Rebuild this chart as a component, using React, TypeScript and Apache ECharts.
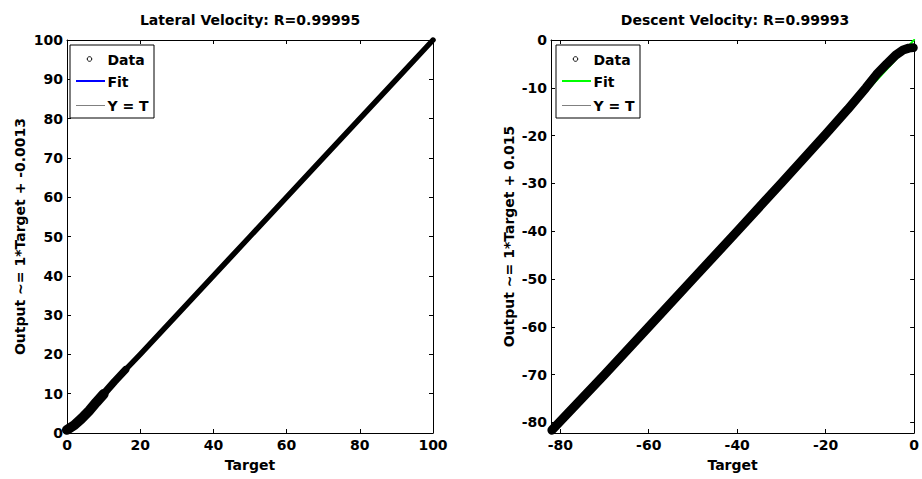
import React, { useEffect, useRef } from "react";
import * as echarts from "echarts";

// ---- Data ----
const lateralTitle = "Lateral Velocity: R=0.99995";
const descentTitle = "Descent Velocity: R=0.99993";
const lateralYName = "Output ~= 1*Target + -0.0013";
const descentYName = "Output ~= 1*Target + 0.015";
const xName = "Target";
const legendNames = ["Data", "Fit", "Y = T"];

// Lateral velocity data band (target, output)
const lateralTarget = [0, 2, 4, 6, 8, 10, 13, 16, 20, 30, 50, 70, 90, 100];
const lateralOutput = [0.8, 2.0, 3.7, 5.6, 7.8, 9.9, 13.1, 16.1, 20, 30, 50, 70, 90, 100];
const lateralThickCount = 6; // points of the thickest lower part
const lateralMidCount = 8; // points of the medium-thick lower part
const lateralFitX = [0, 100];
const lateralFitY = [-0.0013, 99.9987];
const lateralIdent = [0, 100];
const lateralXTicks = [0, 20, 40, 60, 80, 100];
const lateralYTicks = [0, 10, 20, 30, 40, 50, 60, 70, 80, 90, 100];
const lateralRange = [0, 100];

// Descent velocity data band (target, output)
const descentTarget = [-81.9, -70, -60, -50, -40, -30, -20, -15, -10.9, -8.5, -6.2, -4.2, -2.5, -1.2, -0.2];
const descentOutput = [-81.6, -70, -60, -50, -40, -29.9, -19.7, -14.5, -10.0, -7.2, -5.0, -3.2, -2.1, -1.7, -1.6];
const descentFitX = [-82.1, 0];
const descentFitY = [-82.085, 0.015];
const descentIdent = [-82.1, 0];
const descentXTicks = [-80, -60, -40, -20, 0];
const descentYTicks = [-80, -70, -60, -50, -40, -30, -20, -10, 0];
const descentXRange = [-82.1, 0];
const descentYRange = [-82.2, 0];

const FONT = "DejaVu Sans";

const pairs = (xs: number[], ys: number[]) => xs.map((x, i) => [x, ys[i]]);

function axisBase(min: number, max: number, ticks: number[], showLabel: boolean) {
  return {
    type: "value",
    min,
    max,
    splitLine: { show: false },
    axisLine: { show: true, onZero: false, lineStyle: { color: "#000", width: 1 } },
    axisTick: {
      show: true,
      inside: true,
      length: 4,
      customValues: ticks,
      lineStyle: { color: "#000", width: 1 },
    },
    axisLabel: {
      show: showLabel,
      customValues: ticks,
      color: "#000",
      fontFamily: FONT,
      fontWeight: "bold",
      fontSize: 14,
    },
  } as any;
}

function legendGraphic(x: number, fitColor: string) {
  const textStyle = (t: string, tx: number, ty: number) => ({
    type: "text",
    x: tx,
    y: ty,
    z: 101,
    style: {
      text: t,
      fill: "#000",
      font: `bold 14px "${FONT}"`,
      textAlign: "left",
      textVerticalAlign: "middle",
    },
  });
  return [
    {
      type: "rect",
      x,
      y: 45,
      z: 100,
      shape: { x: 0, y: 0, width: 84, height: 73 },
      style: { fill: "#fff", stroke: "#000", lineWidth: 1 },
    },
    {
      type: "circle",
      x: x + 19.5,
      y: 59,
      z: 101,
      shape: { cx: 0, cy: 0, r: 2.3 },
      style: { fill: "#fff", stroke: "#000", lineWidth: 1 },
    },
    {
      type: "line",
      z: 101,
      shape: { x1: x + 6, y1: 81, x2: x + 35, y2: 81 },
      style: { stroke: fitColor, lineWidth: 2 },
    },
    {
      type: "line",
      z: 101,
      shape: { x1: x + 6, y1: 105.5, x2: x + 35, y2: 105.5 },
      style: { stroke: "#808080", lineWidth: 1 },
    },
    textStyle(legendNames[0], x + 37.5, 59.5),
    textStyle(legendNames[1], x + 37.5, 82),
    textStyle(legendNames[2], x + 37.5, 106),
  ];
}

export default function App() {
  const ref = useRef<HTMLDivElement>(null);

  useEffect(() => {
    if (!ref.current) return;
    const chart = echarts.init(ref.current, null, { renderer: "svg" });

    const titleText = (t: string, cx: number) => ({
      type: "text",
      x: cx,
      y: 20,
      z: 100,
      style: {
        text: t,
        fill: "#000",
        font: `bold 14px "${FONT}"`,
        textAlign: "center",
        textVerticalAlign: "middle",
      },
    });

    const xNameCfg = {
      name: xName,
      nameLocation: "middle",
      nameGap: 25,
      nameTextStyle: { color: "#000", fontFamily: FONT, fontWeight: "bold", fontSize: 14 },
    };
    const yNameStyle = { color: "#000", fontFamily: FONT, fontWeight: "bold", fontSize: 14 };

    const lineSeries = (
      name: string,
      data: number[][],
      xi: number,
      yi: number,
      color: string,
      width: number,
      z: number
    ) => ({
      type: "line",
      name,
      data,
      xAxisIndex: xi,
      yAxisIndex: yi,
      showSymbol: false,
      symbol: "none",
      smooth: false,
      clip: true,
      z,
      lineStyle: { color, width, cap: "round", join: "round" },
    });

    const lateralData = pairs(lateralTarget, lateralOutput);
    const descentData = pairs(descentTarget, descentOutput);

    const option: any = {
      animation: false,
      backgroundColor: "#fff",
      grid: [
        { left: 67, right: 489, top: 40, bottom: 46, containLabel: false },
        { left: 551, right: 3, top: 40, bottom: 46, containLabel: false },
      ],
      xAxis: [
        { ...axisBase(lateralRange[0], lateralRange[1], lateralXTicks, true), gridIndex: 0, position: "bottom", ...xNameCfg, axisLabel: { ...axisBase(0, 0, lateralXTicks, true).axisLabel, margin: 5 } },
        { ...axisBase(lateralRange[0], lateralRange[1], lateralXTicks, false), gridIndex: 0, position: "top" },
        { ...axisBase(descentXRange[0], descentXRange[1], descentXTicks, true), gridIndex: 1, position: "bottom", ...xNameCfg, axisLabel: { ...axisBase(0, 0, descentXTicks, true).axisLabel, margin: 5 } },
        { ...axisBase(descentXRange[0], descentXRange[1], descentXTicks, false), gridIndex: 1, position: "top" },
      ],
      yAxis: [
        {
          ...axisBase(lateralRange[0], lateralRange[1], lateralYTicks, true),
          gridIndex: 0,
          position: "left",
          name: lateralYName,
          nameLocation: "middle",
          nameGap: 40,
          nameRotate: 90,
          nameTextStyle: yNameStyle,
          axisLabel: { ...axisBase(0, 0, lateralYTicks, true).axisLabel, margin: 4 },
        },
        { ...axisBase(lateralRange[0], lateralRange[1], lateralYTicks, false), gridIndex: 0, position: "right" },
        {
          ...axisBase(descentYRange[0], descentYRange[1], descentYTicks, true),
          gridIndex: 1,
          position: "left",
          name: descentYName,
          nameLocation: "middle",
          nameGap: 35,
          nameRotate: 90,
          nameTextStyle: yNameStyle,
          axisLabel: { ...axisBase(0, 0, descentYTicks, true).axisLabel, margin: 4 },
        },
        { ...axisBase(descentYRange[0], descentYRange[1], descentYTicks, false), gridIndex: 1, position: "right" },
      ],
      series: [
        lineSeries("Y = T", pairs(lateralIdent, lateralIdent), 0, 0, "#808080", 1, 1),
        lineSeries("Fit", pairs(lateralFitX, lateralFitY), 0, 0, "#0000ff", 2, 2),
        lineSeries("Data", lateralData, 0, 0, "#000", 5.5, 3),
        lineSeries("Data", lateralData.slice(0, lateralMidCount), 0, 0, "#000", 7.5, 3),
        lineSeries("Data", lateralData.slice(0, lateralThickCount), 0, 0, "#000", 10, 3),
        lineSeries("Y = T", pairs(descentIdent, descentIdent), 2, 2, "#808080", 1, 1),
        lineSeries("Fit", pairs(descentFitX, descentFitY), 2, 2, "#00ff00", 2, 2),
        lineSeries("Data", descentData, 2, 2, "#000", 9, 3),
      ],
      graphic: [
        titleText(lateralTitle, 250),
        titleText(descentTitle, 735),
        ...legendGraphic(70, "#0000ff"),
        ...legendGraphic(556, "#00ff00"),
      ],
    };

    chart.setOption(option);
    return () => chart.dispose();
  }, []);

  return (
    <div
      ref={ref}
      style={{ position: "fixed", left: 0, top: 0, width: 922, height: 479, background: "#fff" }}
    />
  );
}
